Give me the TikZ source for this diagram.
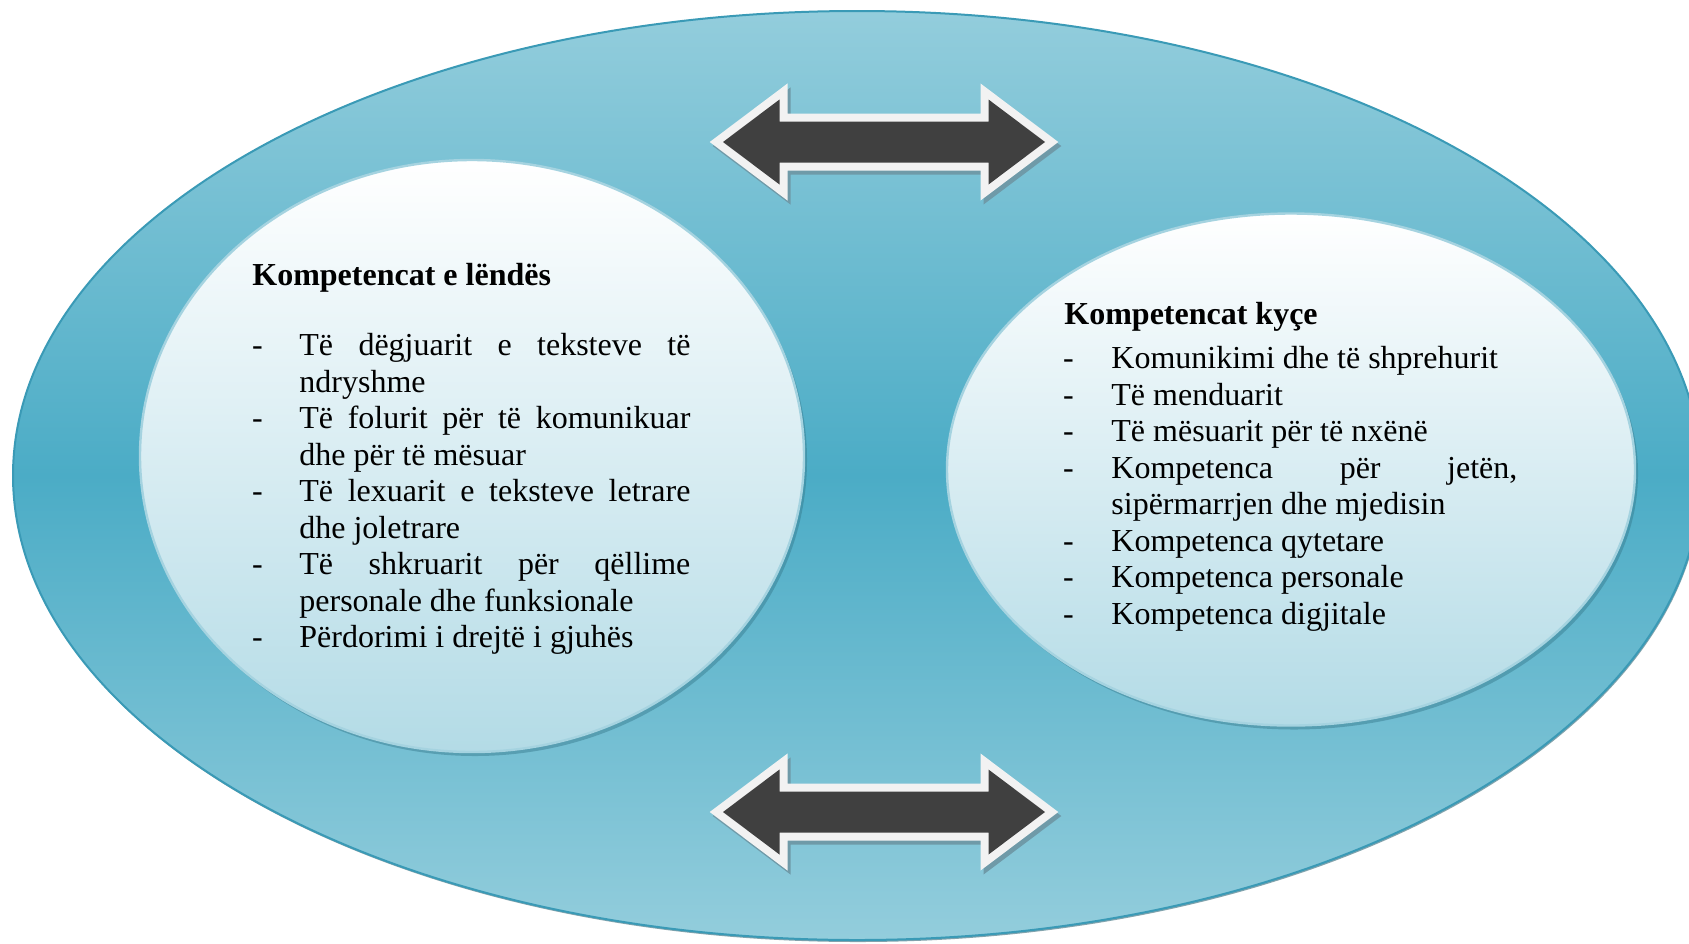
\documentclass[tikz,border=0pt]{standalone}
\usepackage{fontspec}
\setmainfont{Liberation Serif}
\usetikzlibrary{shapes.geometric}
\definecolor{ringlight}{HTML}{93CDDC}
\definecolor{ringdark}{HTML}{4BACC6}
\definecolor{ringedge}{HTML}{3A9AB6}
\definecolor{innerbot}{HTML}{B3DBE6}
\definecolor{inneredge}{HTML}{A5D3E0}
\definecolor{arrowdark}{HTML}{404040}
\definecolor{arrowwhite}{HTML}{F2F2F2}
\definecolor{arrowshadow}{HTML}{6F9AA8}
\newcommand{\itmL}[1]{\par\hangindent=21pt\hangafter=1\noindent\makebox[21pt][l]{\hspace{-2.7pt}\strut-}#1}
\newcommand{\itmR}[1]{\par\hangindent=22pt\hangafter=1\noindent\makebox[22pt][l]{\hspace{-2.2pt}\strut-}#1}
\tikzset{
  ring/.style={ellipse, inner sep=0pt, top color=ringlight, bottom color=ringlight, middle color=ringdark, draw=ringedge, line width=1pt},
  bubble/.style={ellipse, inner sep=0pt, top color=white, bottom color=innerbot, draw=inneredge, line width=1.2pt},
  bubbleshadow/.style={ellipse, inner sep=0pt, fill=ringdark!70!black, opacity=0.45},
  body/.style={font=\fontsize{16}{18.25}\selectfont, inner sep=0pt, anchor=north west, align=justify},
  heading/.style={font=\fontsize{16}{18.25}\selectfont\bfseries, inner sep=0pt, anchor=base west},
  dblarrow/.pic={
    \filldraw[arrowshadow, line width=8pt, line join=miter, shift={(3,4)}]
      (-161,0) -- (-104.5,-42.5) -- (-104.5,-20.5) -- (104.5,-20.5) -- (104.5,-42.5) -- (161,0)
      -- (104.5,42.5) -- (104.5,20.5) -- (-104.5,20.5) -- (-104.5,42.5) -- cycle;
    \filldraw[arrowwhite, line width=8pt, line join=miter]
      (-161,0) -- (-104.5,-42.5) -- (-104.5,-20.5) -- (104.5,-20.5) -- (104.5,-42.5) -- (161,0)
      -- (104.5,42.5) -- (104.5,20.5) -- (-104.5,20.5) -- (-104.5,42.5) -- cycle;
    \fill[arrowdark]
      (-161,0) -- (-104.5,-42.5) -- (-104.5,-20.5) -- (104.5,-20.5) -- (104.5,-42.5) -- (161,0)
      -- (104.5,42.5) -- (104.5,20.5) -- (-104.5,20.5) -- (-104.5,42.5) -- cycle;
  },
}
\begin{document}
\begin{tikzpicture}[x=0.5pt, y=-0.5pt]
\clip (0,0) rectangle (1689,943);
\fill[white] (0,0) rectangle (1689,943);
% outer ring
\node[ellipse, inner sep=0pt, fill=ringdark!60!black, opacity=0.6, minimum width=844pt, minimum height=464.5pt] (ringshadow) at (858,477.5) {};
\node[ring, minimum width=844pt, minimum height=464.5pt] (ring) at (857,475.5) {};
% inner bubbles
\node[bubbleshadow, minimum width=332pt, minimum height=296pt] (lshadow) at (475,460) {};
\node[bubble, minimum width=332pt, minimum height=296pt] (left) at (472,456) {};
\node[bubbleshadow, minimum width=344pt, minimum height=256pt] (rshadow) at (1294,473.5) {};
\node[bubble, minimum width=344pt, minimum height=256pt] (right) at (1291,469.5) {};
% arrows
\pic at (884,142) {dblarrow};
\pic at (884,812) {dblarrow};
% left text
\node[heading] (ltitle) at (252,285) {Kompetencat e lëndës};
\node[body, text width=216.5pt] (llist) at (257,319) {\hyphenpenalty=10000\tolerance=9999
\itmL{Të dëgjuarit e teksteve të\linebreak ndryshme}
\itmL{Të folurit për të komunikuar\linebreak dhe për të mësuar}
\itmL{Të lexuarit e teksteve letrare\linebreak dhe joletrare}
\itmL{Të shkruarit për qëllime\linebreak personale dhe funksionale}
\itmL{Përdorimi i drejtë i gjuhës}};
% right text
\node[heading] (rtitle) at (1064,324.5) {Kompetencat kyçe};
\node[body, text width=225pt] (rlist) at (1067,332) {\hyphenpenalty=10000\tolerance=9999
\itmR{Komunikimi dhe të shprehurit}
\itmR{Të menduarit}
\itmR{Të mësuarit për të nxënë}
\itmR{Kompetenca për jetën,\linebreak sipërmarrjen dhe mjedisin}
\itmR{Kompetenca qytetare}
\itmR{Kompetenca personale}
\itmR{Kompetenca digjitale}};
\end{tikzpicture}
\end{document}
